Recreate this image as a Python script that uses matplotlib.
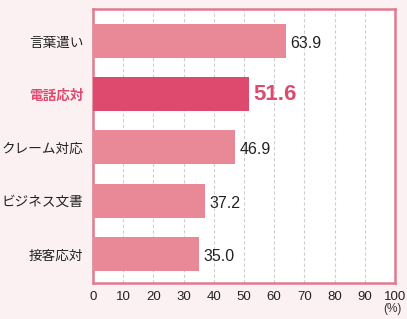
import matplotlib
matplotlib.use("Agg")
import matplotlib.pyplot as plt

plt.rcParams['font.family'] = ['Noto Sans CJK JP', 'DejaVu Sans']

categories = ["言葉遣い", "電話応対", "クレーム対応", "ビジネス文書", "接客応対"]
values = [63.9, 51.6, 46.9, 37.2, 35.0]
highlight = 1
xticks = [0, 10, 20, 30, 40, 50, 60, 70, 80, 90, 100]

bg = "#fcf1f2"
bar_c = "#e98896"
hi_c = "#de4a6e"
edge_c = "#e07a90"
num_font = ['Liberation Sans', 'DejaVu Sans']

fig = plt.figure(figsize=(4.07, 3.19), dpi=100, facecolor=bg)
ax = fig.add_axes([93/407, 1-283/319, (395-93)/407, (283-9)/319])
ax.set_facecolor("white")

ys = list(range(len(categories)))
colors = [hi_c if i == highlight else bar_c for i in ys]
ax.barh(ys, values, height=0.64, color=colors, zorder=3)

ax.set_xlim(0, 100)
ax.set_ylim(4.55, -0.6)
ax.set_xticks(xticks)
ax.set_xticklabels([str(t) for t in xticks], fontsize=9.5, color="#222222",
                   family=num_font)
ax.tick_params(axis='x', length=0, pad=6)
ax.tick_params(axis='y', length=0, pad=7)
ax.set_yticks(ys)
ax.set_yticklabels(categories, fontsize=9.8)
for i, lab in enumerate(ax.get_yticklabels()):
    if i == highlight:
        lab.set_color(hi_c)
        lab.set_fontweight('bold')
    else:
        lab.set_color("#222222")

for x in xticks[1:-1]:
    ax.axvline(x, color="#cfcfcf", lw=0.8, ls=(0, (3, 2)), zorder=1)

for s in ax.spines.values():
    s.set_color(edge_c)
    s.set_linewidth(1.8)

for i, v in enumerate(values):
    if i == highlight:
        ax.text(v + 1.4, i, f"{v:.1f}", va='center', ha='left', fontsize=16,
                fontweight='bold', color=hi_c, family=num_font)
    else:
        ax.text(v + 1.5, i + 0.05, f"{v:.1f}", va='center', ha='left', fontsize=11.5,
                color="#222222", family=num_font)

fig.text(402/407, 1-309/319, "(%)", ha='right', va='center', fontsize=8.5,
         color="#333333", family=num_font)

fig.savefig("out.png", dpi=100, facecolor=bg)
